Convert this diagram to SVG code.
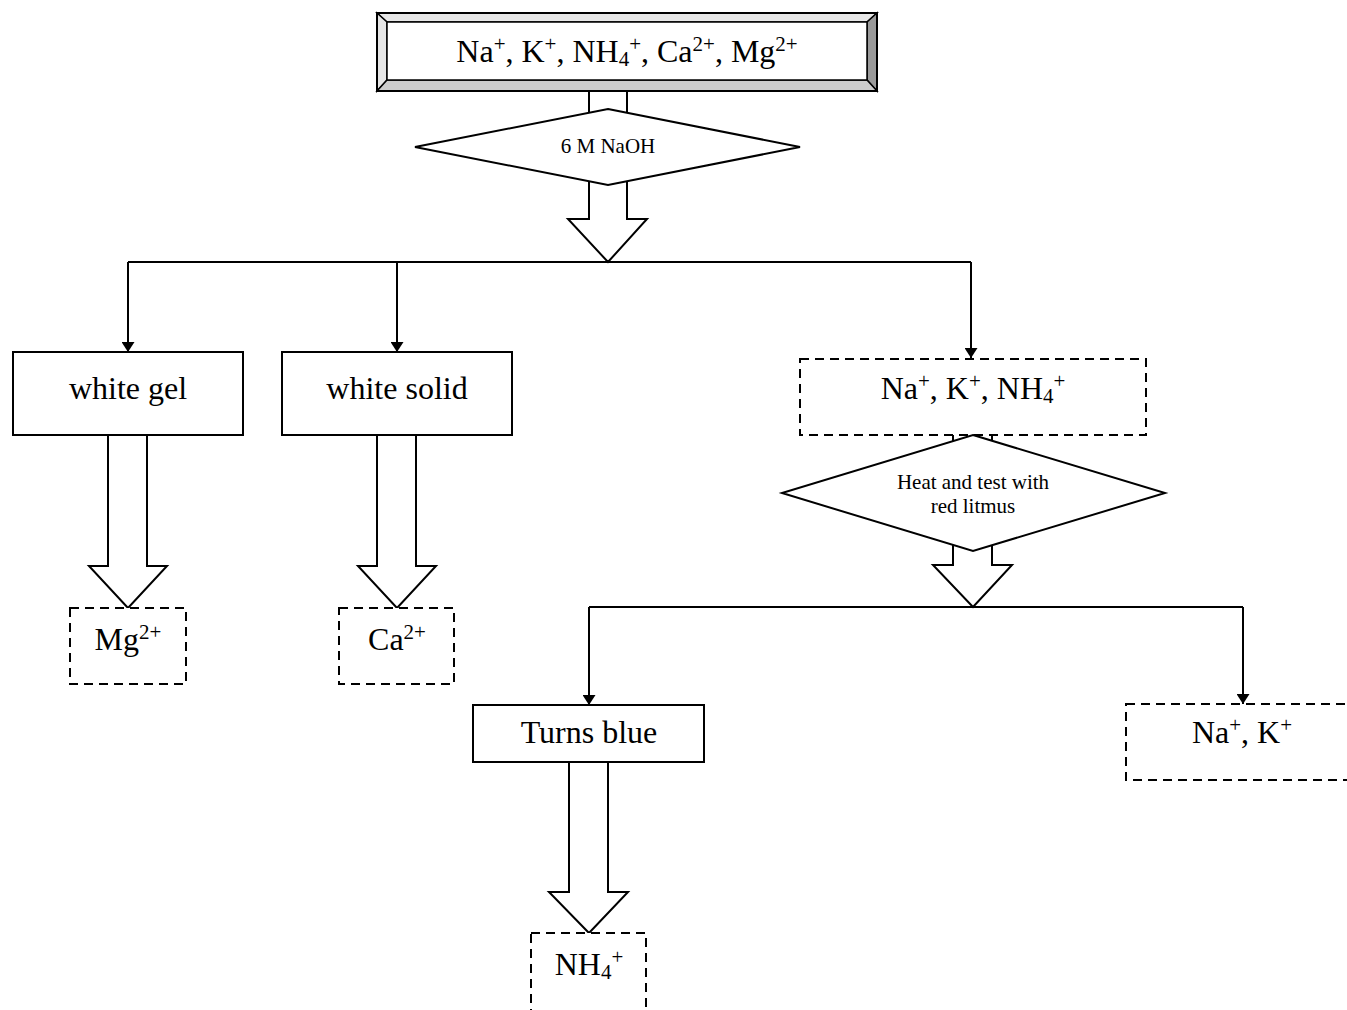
<svg xmlns="http://www.w3.org/2000/svg" width="1347" height="1010" viewBox="0 0 1347 1010">
<style>
text{font-family:"Liberation Serif","Times New Roman",serif;fill:#000;text-anchor:middle}
.big{font-size:32px}
.small{font-size:21px}
.box{fill:#fff;stroke:#000;stroke-width:2}
.dash{fill:#fff;stroke:#000;stroke-width:2;stroke-dasharray:9 6}
.hollow{fill:#fff;stroke:#000;stroke-width:2;stroke-linejoin:miter}
.dia{fill:#fff;stroke:#000;stroke-width:2}
.conn{fill:none;stroke:#000;stroke-width:2}
.bev{stroke:#000;stroke-width:1.5}
</style>
<defs>
<marker id="ah" viewBox="0 0 10 13" refX="10" refY="6.5" markerWidth="10" markerHeight="13" markerUnits="userSpaceOnUse" orient="auto">
<path d="M0,0 L10,6.5 L0,13 Z" fill="#000"/>
</marker>
</defs>
<rect width="1347" height="1010" fill="#fff"/>

<g id="connectors">
<path class="hollow" d="M589,91 V219 H568 L608,262 L647,219 H627 V91"/>
<line class="conn" x1="128" y1="262" x2="971" y2="262"/>
<line class="conn" x1="128" y1="262" x2="128" y2="352" marker-end="url(#ah)"/>
<line class="conn" x1="397" y1="262" x2="397" y2="352" marker-end="url(#ah)"/>
<line class="conn" x1="971" y1="262" x2="971" y2="358" marker-end="url(#ah)"/>
<path class="hollow" d="M108,435 V566 H89 L128,608 L167,566 H147 V435"/>
<path class="hollow" d="M377,435 V566 H358 L397,608 L436,566 H416 V435"/>
<path class="hollow" d="M953,435 V565 H933 L973,607 L1012,565 H992 V435"/>
<line class="conn" x1="589" y1="607" x2="1243" y2="607"/>
<line class="conn" x1="589" y1="607" x2="589" y2="705" marker-end="url(#ah)"/>
<line class="conn" x1="1243" y1="607" x2="1243" y2="704" marker-end="url(#ah)"/>
<path class="hollow" d="M569,762 V892 H549 L589,933 L628,892 H608 V762"/>
</g>

<g id="start">
<rect x="377" y="13" width="500" height="78" fill="#fff" stroke="#000" stroke-width="2"/>
<polygon class="bev" points="377,13 877,13 867,22 387,22" fill="#e6e6e6"/>
<polygon class="bev" points="377,13 387,22 387,80 377,91" fill="#e6e6e6"/>
<polygon class="bev" points="877,13 877,91 867,80 867,22" fill="#9a9a9a"/>
<polygon class="bev" points="377,91 387,80 867,80 877,91" fill="#cccccc"/>
<rect x="387" y="22" width="480" height="58" fill="#fff" stroke="#000" stroke-width="1.5"/>
<rect x="377" y="13" width="500" height="78" fill="none" stroke="#000" stroke-width="2"/>
<text class="big" x="627" y="62">Na<tspan font-size="21" dy="-11">+</tspan><tspan dy="11">, K</tspan><tspan font-size="21" dy="-11">+</tspan><tspan dy="11">, NH</tspan><tspan font-size="21" dy="4">4</tspan><tspan font-size="21" dy="-15">+</tspan><tspan dy="11">, Ca</tspan><tspan font-size="21" dy="-11">2+</tspan><tspan dy="11">, Mg</tspan><tspan font-size="21" dy="-11">2+</tspan></text>
</g>

<g id="naoh">
<polygon class="dia" points="608,109 800,147 608,185 415,147"/>
<text class="small" x="608" y="153">6 M NaOH</text>
</g>

<g id="white-gel">
<rect class="box" x="13" y="352" width="230" height="83"/>
<text class="big" x="128" y="399">white gel</text>
</g>

<g id="white-solid">
<rect class="box" x="282" y="352" width="230" height="83"/>
<text class="big" x="397" y="399">white solid</text>
</g>

<g id="na-k-nh4">
<rect class="dash" x="800" y="359" width="346" height="76"/>
<text class="big" x="973" y="399">Na<tspan font-size="21" dy="-11">+</tspan><tspan dy="11">, K</tspan><tspan font-size="21" dy="-11">+</tspan><tspan dy="11">, NH</tspan><tspan font-size="21" dy="4">4</tspan><tspan font-size="21" dy="-15">+</tspan></text>
</g>

<g id="heat">
<polygon class="dia" points="973,435 1165,493 973,551 782,493"/>
<text class="small" x="973" y="489">Heat and test with</text>
<text class="small" x="973" y="513">red litmus</text>
</g>

<g id="mg">
<rect class="dash" x="70" y="608" width="116" height="76"/>
<text class="big" x="128" y="650">Mg<tspan font-size="21" dy="-11">2+</tspan></text>
</g>

<g id="ca">
<rect class="dash" x="339" y="608" width="115" height="76"/>
<text class="big" x="397" y="650">Ca<tspan font-size="21" dy="-11">2+</tspan></text>
</g>

<g id="turns-blue">
<rect class="box" x="473" y="705" width="231" height="57"/>
<text class="big" x="589" y="743">Turns blue</text>
</g>

<g id="na-k">
<rect class="dash" x="1126" y="704" width="240" height="76"/>
<text class="big" x="1242" y="743">Na<tspan font-size="21" dy="-11">+</tspan><tspan dy="11">, K</tspan><tspan font-size="21" dy="-11">+</tspan></text>
</g>

<g id="nh4">
<rect class="dash" x="531" y="933" width="115" height="100"/>
<text class="big" x="589" y="975">NH<tspan font-size="21" dy="4">4</tspan><tspan font-size="21" dy="-15">+</tspan></text>
</g>
</svg>
